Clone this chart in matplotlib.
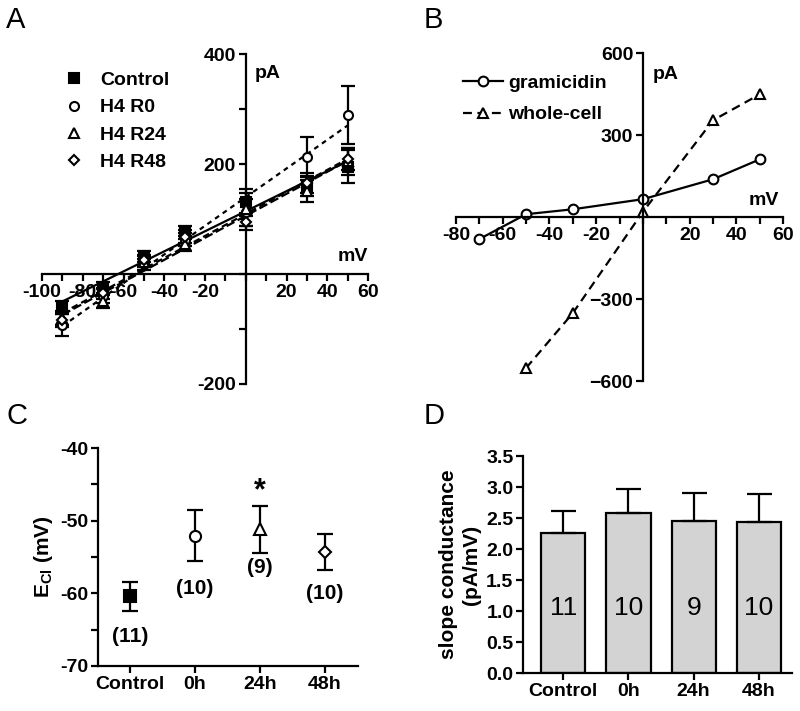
import matplotlib

matplotlib.use("Agg")
import matplotlib.pyplot as plt
import numpy as np
from matplotlib.lines import Line2D

plt.rcParams["font.family"] = ["Liberation Sans", "DejaVu Sans"]
plt.rcParams["font.weight"] = "bold"
plt.rcParams["axes.labelweight"] = "bold"
plt.rcParams["mathtext.fontset"] = "custom"
plt.rcParams["mathtext.rm"] = "Liberation Sans"
plt.rcParams["mathtext.bf"] = "Liberation Sans:bold"

# --- panel A: I-V curves after H4 treatment (mean +/- SEM) ---
iv_mv = [-90, -70, -50, -30, 0, 30, 50]
iv_names = ["Control", "H4 R0", "H4 R24", "H4 R48"]
iv_control = [-60, -25, 32, 75, 130, 160, 195]
iv_r0 = [-93, -40, 18, 62, 112, 213, 289]
iv_r24 = [-80, -50, 22, 55, 118, 150, 205]
iv_r48 = [-84, -35, 25, 68, 95, 165, 210]
iv_control_err = [10, 10, 10, 12, 25, 18, 30]
iv_r0_err = [20, 12, 10, 12, 25, 36, 53]
iv_r24_err = [12, 12, 10, 14, 30, 20, 25]
iv_r48_err = [12, 10, 10, 12, 15, 18, 20]

# --- panel B: example cell, gramicidin vs whole-cell ---
gram_mv = [-70, -50, -30, 0, 30, 50]
gram_pa = [-80, 11, 29, 66, 139, 212]
wc_mv = [-50, -30, 0, 30, 50]
wc_pa = [-552, -351, 20, 355, 450]

# --- panel C: E_Cl ---
groups = ["Control", "0h", "24h", "48h"]
ecl_mean = [-60.4, -52.1, -51.2, -54.3]
ecl_err = [2.0, 3.5, 3.2, 2.5]
ecl_n = ["(11)", "(10)", "(9)", "(10)"]
ecl_n_y = [-66.0, -59.3, -56.5, -60.0]

# --- panel D: slope conductance ---
g_mean = [2.26, 2.585, 2.46, 2.43]
g_err = [0.35, 0.385, 0.45, 0.46]
g_n = ["11", "10", "9", "10"]

LW = 1.6
TICK_FS = 14
LABEL_FS = 15

fig = plt.figure(figsize=(8, 7.11), dpi=100)


def origin_axes(ax):
    for side in ("top", "right"):
        ax.spines[side].set_visible(False)
    ax.spines["left"].set_position(("data", 0))
    ax.spines["bottom"].set_position(("data", 0))
    for side in ("left", "bottom"):
        ax.spines[side].set_linewidth(LW)
    ax.tick_params(direction="out", length=5, width=LW, labelsize=TICK_FS, pad=2)
    ax.patch.set_visible(False)


def tick_labels(ticks, shown):
    return [str(t) if t in shown else "" for t in ticks]


# ---------------- A ----------------
axA = fig.add_axes([0.0525, 0.46, 0.4075, 0.464])
origin_axes(axA)
styles = [
    dict(marker="s", mfc="black", ls="-"),
    dict(marker="o", mfc="white", ls=(0, (2.2, 2.0))),
    dict(marker="^", mfc="white", ls=(0, (4, 1.6))),
    dict(marker="D", mfc="white", ls=(0, (3, 1.8))),
]
series = [iv_control, iv_r0, iv_r24, iv_r48]
errs = [iv_control_err, iv_r0_err, iv_r24_err, iv_r48_err]
x = np.array(iv_mv, dtype=float)
handles = []
for ys, es, st, name in zip(series, errs, styles, iv_names):
    ms = 5 if st["marker"] == "D" else 6.5
    axA.errorbar(x, ys, yerr=es, fmt="none", ecolor="black", elinewidth=LW,
                 capsize=5, capthick=LW, zorder=3)
    # linear regression line through each series
    slope, icpt = np.polyfit(x, ys, 1)
    xl = np.array([x.min(), x.max()])
    axA.plot(xl, slope * xl + icpt, color="black", lw=LW, ls=st["ls"], zorder=2)
    axA.plot(x, ys, ls="none", marker=st["marker"], ms=ms, mfc=st["mfc"],
             mec="black", mew=1.5, zorder=4)
    handles.append(Line2D([], [], ls="none", marker=st["marker"], ms=ms,
                          mfc=st["mfc"], mec="black", mew=1.5, label=name))
axA.set_xlim(-100, 60)
axA.set_ylim(-200, 400)
xt = list(range(-100, 61, 10))
axA.set_xticks(xt)
axA.set_xticklabels(tick_labels(xt, [-100, -80, -60, -40, -20, 20, 40, 60]))
yt = [-200, -100, 0, 100, 200, 300, 400]
axA.set_yticks(yt)
axA.set_yticklabels(tick_labels(yt, [-200, 200, 400]))
axA.text(4.4, 365, "pA", fontsize=TICK_FS, va="center", ha="left")
axA.text(60, 32, "mV", fontsize=TICK_FS, va="center", ha="right")
axA.legend(handles=handles, loc="upper left", bbox_to_anchor=(0.063, 0.947),
           frameon=False, fontsize=TICK_FS, handlelength=1.2, handletextpad=0.75,
           labelspacing=0.5, borderaxespad=0, borderpad=0)

# ---------------- B ----------------
axB = fig.add_axes([0.57, 0.464, 0.409, 0.461])
origin_axes(axB)
axB.plot(gram_mv, gram_pa, color="black", lw=LW, marker="o", ms=7, mfc="white",
         mec="black", mew=1.5, label="gramicidin")
axB.plot(wc_mv, wc_pa, color="black", lw=LW, ls=(0, (4, 2.5)), marker="^", ms=7,
         mfc="white", mec="black", mew=1.5, label="whole-cell")
axB.set_xlim(-80, 60)
axB.set_ylim(-600, 600)
xt = list(range(-80, 61, 10))
axB.set_xticks(xt)
axB.set_xticklabels(tick_labels(xt, [-80, -60, -40, -20, 20, 40, 60]))
axB.set_yticks([-600, -300, 300, 600])
axB.text(4.3, 523, "pA", fontsize=TICK_FS, va="center", ha="left")
axB.text(58, 62, "mV", fontsize=TICK_FS, va="center", ha="right")
axB.legend(loc="upper left", bbox_to_anchor=(0.02, 0.935), frameon=False,
           fontsize=TICK_FS, handlelength=2.1, handletextpad=0.25,
           labelspacing=0.7, borderaxespad=0, borderpad=0)

# ---------------- C ----------------
axC = fig.add_axes([0.1225, 0.0633, 0.325, 0.3066])
for side in ("top", "right"):
    axC.spines[side].set_visible(False)
for side in ("left", "bottom"):
    axC.spines[side].set_linewidth(LW)
pos = np.arange(len(groups))
c_markers = [("s", "black"), ("o", "white"), ("^", "white"), ("D", "white")]
for i, (m, fc) in enumerate(c_markers):
    axC.errorbar(pos[i], ecl_mean[i], yerr=ecl_err[i], fmt="none", ecolor="black",
                 elinewidth=LW, capsize=6, capthick=LW)
    axC.plot(pos[i], ecl_mean[i], marker=m, ms=8 if m != "D" else 6.5, mfc=fc,
             mec="black", mew=1.5, ls="none", zorder=3)
    axC.text(pos[i], ecl_n_y[i], ecl_n[i], ha="center", va="center", fontsize=15)
axC.text(pos[2], -46.0, "*", ha="center", va="center", fontsize=22)
axC.set_xlim(-0.49, 3.51)
axC.set_ylim(-70, -40)
axC.set_xticks(pos)
axC.set_xticklabels(groups)
axC.set_yticks(np.arange(-70, -39, 5))
axC.set_yticklabels(tick_labels(list(range(-70, -39, 5)), [-70, -60, -50, -40]))
axC.tick_params(direction="out", length=5, width=LW, labelsize=TICK_FS, pad=2)
axC.set_ylabel(r"E$_{\mathrm{Cl}}$ (mV)", fontsize=LABEL_FS, labelpad=4)

# ---------------- D ----------------
axD = fig.add_axes([0.654, 0.0534, 0.336, 0.305])
for side in ("top", "right"):
    axD.spines[side].set_visible(False)
for side in ("left", "bottom"):
    axD.spines[side].set_linewidth(LW)
axD.bar(pos, g_mean, width=0.68, color="#d3d3d3", edgecolor="black", linewidth=LW,
        yerr=[np.zeros(len(g_err)), g_err], capsize=9,
        error_kw=dict(elinewidth=LW, capthick=LW, ecolor="black"), zorder=2)
for i, n in enumerate(g_n):
    axD.text(pos[i], 1.05, n, ha="center", va="center", fontsize=19,
             fontweight="normal", zorder=3)
axD.set_xlim(-0.615, 3.508)
axD.set_ylim(0, 3.5)
axD.set_xticks(pos)
axD.set_xticklabels(groups)
axD.set_yticks(np.arange(0, 3.51, 0.5))
axD.set_yticklabels([f"{v:.1f}" for v in np.arange(0, 3.51, 0.5)])
axD.tick_params(direction="out", length=5, width=LW, labelsize=TICK_FS, pad=2)
axD.set_ylabel("slope conductance\n(pA/mV)", fontsize=LABEL_FS, labelpad=4,
               linespacing=1.25)

# panel letters
for letter, (lx, ly) in zip("ABCD", [(0.008, 0.992), (0.53, 0.992),
                                    (0.008, 0.435), (0.53, 0.435)]):
    fig.text(lx, ly, letter, fontsize=21, fontweight="normal", ha="left", va="top")

fig.savefig("out.png", dpi=100)
